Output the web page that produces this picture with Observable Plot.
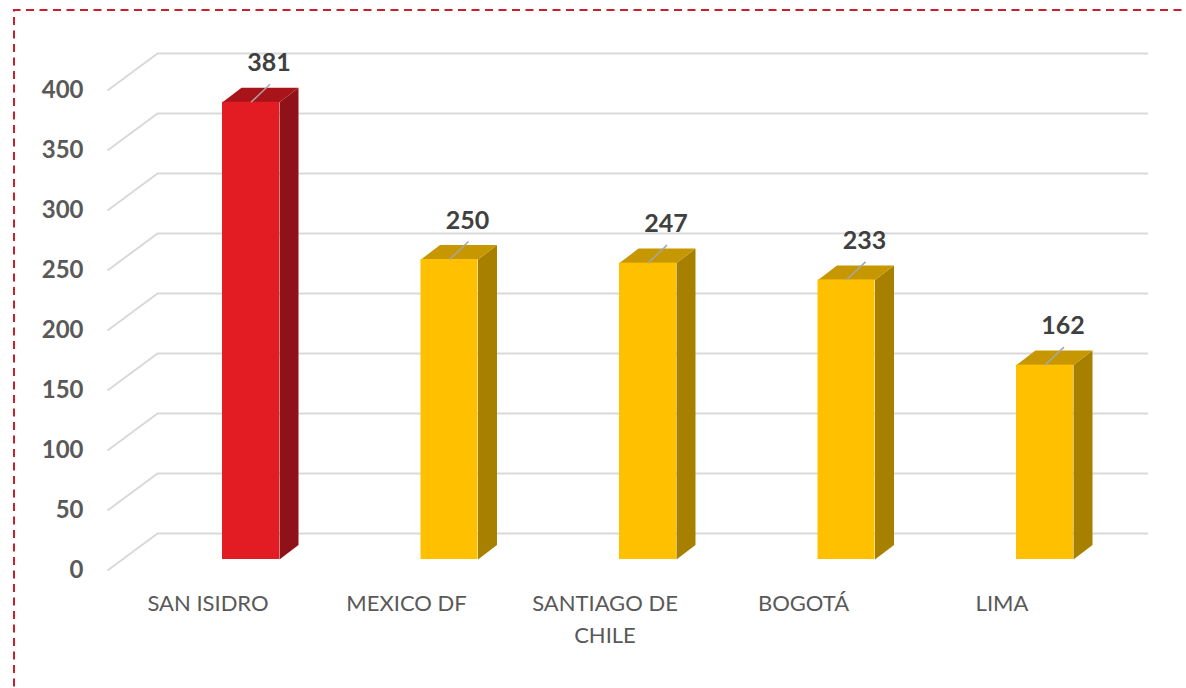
<!DOCTYPE html>
<html>
<head>
<meta charset="utf-8">
<script src="https://cdn.jsdelivr.net/npm/d3@7"></script>
<script src="https://cdn.jsdelivr.net/npm/@observablehq/plot@0.6"></script>
<style>
  html, body { margin: 0; padding: 0; background: #fff; }
  #chart { width: 1186px; height: 688px; }
</style>
</head>
<body>
<div id="chart"></div>
<script>
// ---- data ----
const categories = ["SAN ISIDRO", "MEXICO DF", "SANTIAGO DE CHILE", "BOGOTÁ", "LIMA"];
const values = [381, 250, 247, 233, 162];
const tickLabels = ["SAN ISIDRO", "MEXICO DF", "SANTIAGO DE\nCHILE", "BOGOTÁ", "LIMA"];
const yTicks = [0, 50, 100, 150, 200, 250, 300, 350, 400];
const highlighted = ["SAN ISIDRO"];

// ---- 3D geometry (data units) ----
const HALF = 0.1436;      // half bar width
const DEPTH_X = 0.0957;   // bar depth, x
const DEPTH_Y = 12.08;    // bar depth, y
const BACK_X0 = -0.471, BACK_X1 = 4.521, BACK_DY = 21.67;
const FRONT_X = -0.7229, FRONT_DY = -9.17;

const palette = {
  red:    {front: "#e31b23", top: "#a9141b", side: "#8e1217"},
  yellow: {front: "#ffc000", top: "#c69700", side: "#a88000"}
};

const bars = categories.map((c, i) => ({
  cat: c, i, v: values[i],
  pal: highlighted.includes(c) ? palette.red : palette.yellow
}));

const sidePts = bars.flatMap(b => [
  [b.i + HALF, 0], [b.i + HALF, b.v], [b.i + HALF + DEPTH_X, b.v + DEPTH_Y], [b.i + HALF + DEPTH_X, DEPTH_Y]
].map(([x, y]) => ({x, y, z: b.cat, color: b.pal.side})));

const topPts = bars.flatMap(b => [
  [b.i - HALF, b.v], [b.i + HALF, b.v], [b.i + HALF + DEPTH_X, b.v + DEPTH_Y], [b.i - HALF + DEPTH_X, b.v + DEPTH_Y]
].map(([x, y]) => ({x, y, z: b.cat, color: b.pal.top})));

const chart = Plot.plot({
  width: 1186,
  height: 688,
  margin: 0,
  x: {domain: [0, categories.length - 1], range: [250.5, 1044.5], axis: null},
  y: {domain: [0, 400], range: [559, 79], axis: null},
  color: {type: "identity"},
  style: {fontFamily: "Lato, 'Open Sans', sans-serif", background: "#fff"},
  marks: [
    // back wall gridlines
    Plot.ruleY(yTicks, {y: d => d + BACK_DY, x1: () => BACK_X0, x2: () => BACK_X1, stroke: "#d9d9d9", strokeWidth: 2}),
    // side-wall perspective lines
    Plot.link(yTicks, {x1: () => FRONT_X, y1: d => d + FRONT_DY, x2: () => BACK_X0, y2: d => d + BACK_DY, stroke: "#d9d9d9", strokeWidth: 2}),
    // y tick labels
    Plot.text(yTicks, {x: () => FRONT_X, y: d => d + FRONT_DY, text: d => String(d), textAnchor: "end", dx: -24,
      fontSize: 24, fontWeight: "bold", fill: "#595959"}),
    // bar sides
    Plot.line(sidePts, {x: "x", y: "y", z: "z", fill: "color", stroke: null, curve: "linear-closed"}),
    // bar tops
    Plot.line(topPts, {x: "x", y: "y", z: "z", fill: "color", stroke: null, curve: "linear-closed"}),
    // bar fronts
    Plot.rect(bars, {x1: d => d.i - HALF, x2: d => d.i + HALF, y1: () => 0, y2: "v", fill: d => d.pal.front}),
    // leader lines
    Plot.link(bars, {x1: "i", y1: "v", x2: "i", y2: "v", stroke: "#a6a6a6", strokeWidth: 1.5,
      render: (index, scales, values, dims, context, next) => {
        const g = next(index, scales, values, dims, context);
        d3.select(g).selectAll("path").each(function(_, k) {
          const i = index[k];
          const x = values.x1[i], y = values.y1[i];
          d3.select(this).attr("d", `M${x},${y}L${x + 19},${y - 18}`);
        });
        return g;
      }}),
    // value labels
    Plot.text(bars, {x: "i", y: "v", text: d => String(d.v), dx: 18, dy: -39,
      fontSize: 25, fontWeight: "bold", fill: "#404040"}),
    // category labels
    Plot.text(bars, {x: "i", y: () => 0, text: d => tickLabels[d.i], dx: -43, dy: 29, lineAnchor: "top",
      lineHeight: 1.45, fontSize: 22, fill: "#595959"})
  ]
});

// dashed frame around the chart
d3.select(chart).append("path")
  .attr("d", "M14,700V10H1200")
  .attr("fill", "none")
  .attr("stroke", "#c8202c")
  .attr("stroke-width", 2)
  .attr("stroke-dasharray", "8,5.5");

document.getElementById("chart").appendChild(chart);
</script>
</body>
</html>
